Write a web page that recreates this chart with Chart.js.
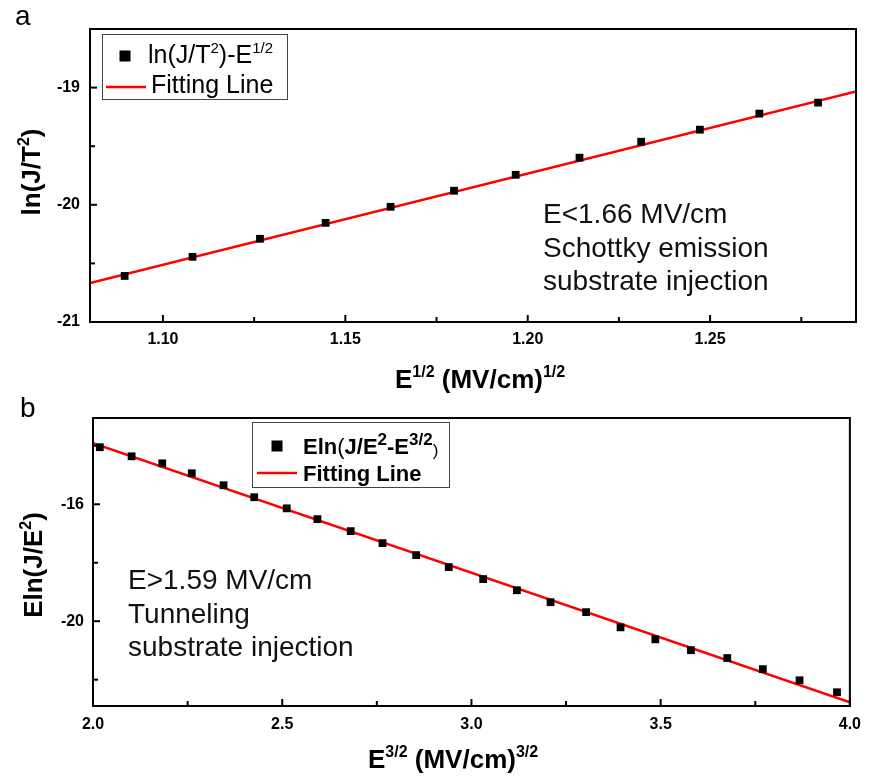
<!DOCTYPE html>
<html>
<head>
<meta charset="utf-8">
<script src="https://cdn.jsdelivr.net/npm/chart.js@4.4.1/dist/chart.umd.min.js"></script>
<style>
html, body { margin: 0; padding: 0; background: #fff; }
#wrapA { position: absolute; left: 0; top: 0; width: 870px; height: 400px; }
#wrapB { position: absolute; left: 0; top: 385px; width: 870px; height: 393px; }
</style>
</head>
<body>
<div id="wrapA"><canvas id="chartA"></canvas></div>
<div id="wrapB"><canvas id="chartB"></canvas></div>
<script>
// panel a : ln(J/T^2) vs E^1/2
const xA = [1.0895, 1.1081, 1.1266, 1.1446, 1.1624, 1.1798, 1.1967, 1.2142, 1.2311, 1.2472, 1.2635, 1.2796];
const yA = [-20.607, -20.444, -20.29, -20.154, -20.017, -19.88, -19.744, -19.598, -19.462, -19.359, -19.222, -19.128];
const fitXA = [1.08, 1.29];
const fitYA = [-20.667, -19.034];
const majorXA = [1.10, 1.15, 1.20, 1.25];
const minorXA = [1.125, 1.175, 1.225, 1.275];
const majorYA = [-21, -20, -19];
const minorYA = [-20.5, -19.5];

// panel b : Eln(J/E^2) vs E^3/2
const xB = [2.018, 2.102, 2.183, 2.261, 2.345, 2.426, 2.512, 2.593, 2.681, 2.765, 2.854, 2.940,
            3.031, 3.120, 3.209, 3.303, 3.394, 3.486, 3.580, 3.676, 3.770, 3.867, 3.966];
const yB = [-14.05, -14.36, -14.60, -14.94, -15.35, -15.76, -16.14, -16.51, -16.92, -17.33, -17.74, -18.15,
            -18.56, -18.94, -19.35, -19.69, -20.21, -20.62, -20.99, -21.26, -21.64, -22.02, -22.43];
const fitXB = [2.0, 4.0];
const fitYB = [-13.91, -22.77];
const majorXB = [2.0, 2.5, 3.0, 3.5, 4.0];
const minorXB = [2.25, 2.75, 3.25, 3.75];
const majorYB = [-20, -16];
const minorYB = [-22, -18, -14];

const FONT = "'Liberation Sans', Arial, sans-serif";

function toPts(xs, ys) {
	return xs.map((x, i) => ({ x: x, y: ys[i] }));
}

// draws a run of text pieces: [text, font, dy]
function drawRich(ctx, parts, x, y, align) {
	let w = 0;
	parts.forEach(p => { ctx.font = p[1]; w += ctx.measureText(p[0]).width; });
	let cx = align === "center" ? x - w / 2 : x;
	ctx.textAlign = "left";
	ctx.textBaseline = "alphabetic";
	parts.forEach(p => {
		ctx.font = p[1];
		ctx.fillText(p[0], cx, y + (p[2] || 0));
		cx += ctx.measureText(p[0]).width;
	});
}

function decor(cfg) {
	return {
		id: "decor",
		afterDraw(chart) {
			const ctx = chart.ctx;
			const a = chart.chartArea;
			const sx = chart.scales.x, sy = chart.scales.y;
			ctx.save();
			ctx.strokeStyle = "#000";
			ctx.fillStyle = "#000";
			// frame
			ctx.lineWidth = 2;
			ctx.strokeRect(a.left, a.top, a.right - a.left, a.bottom - a.top);
			// inward ticks
			cfg.majorX.concat(cfg.minorX).forEach(v => {
				const len = cfg.majorX.includes(v) ? 7 : 5;
				const px = sx.getPixelForValue(v);
				ctx.beginPath(); ctx.moveTo(px, a.bottom); ctx.lineTo(px, a.bottom - len); ctx.stroke();
			});
			cfg.majorY.concat(cfg.minorY).forEach(v => {
				const len = cfg.majorY.includes(v) ? 7 : 5;
				const py = sy.getPixelForValue(v);
				ctx.beginPath(); ctx.moveTo(a.left, py); ctx.lineTo(a.left + len, py); ctx.stroke();
			});
			// panel letter
			ctx.font = "28px " + FONT;
			ctx.textAlign = "left";
			ctx.textBaseline = "alphabetic";
			ctx.fillText(cfg.letter[0], cfg.letter[1], cfg.letter[2]);
			// axis titles
			drawRich(ctx, cfg.xTitle, cfg.xTitlePos[0], cfg.xTitlePos[1], "left");
			ctx.save();
			ctx.translate(cfg.yTitlePos[0], cfg.yTitlePos[1]);
			ctx.rotate(-Math.PI / 2);
			drawRich(ctx, cfg.yTitle, 0, 0, "center");
			ctx.restore();
			// legend
			const L = cfg.legend;
			ctx.lineWidth = 1;
			ctx.strokeStyle = "#444";
			ctx.strokeRect(L.box[0] + 0.5, L.box[1] + 0.5, L.box[2], L.box[3]);
			ctx.fillStyle = "#000";
			ctx.fillRect(L.marker[0] - 5.5, L.marker[1] - 5.5, 11, 11);
			drawRich(ctx, L.row1, L.text1[0], L.text1[1], "left");
			ctx.strokeStyle = "#ff0000";
			ctx.lineWidth = 2.5;
			ctx.beginPath(); ctx.moveTo(L.line[0], L.line[2]); ctx.lineTo(L.line[1], L.line[2]); ctx.stroke();
			ctx.fillStyle = "#000";
			drawRich(ctx, L.row2, L.text2[0], L.text2[1], "left");
			// annotation
			ctx.fillStyle = "#111";
			ctx.font = "28px " + FONT;
			cfg.note.forEach((t, i) => ctx.fillText(t, cfg.notePos[0], cfg.notePos[1] + i * 33.5));
			ctx.restore();
		}
	};
}

function makeChart(id, pts, fit, ax, cfg) {
	const allX = ax.majorX.concat(ax.minorX).sort((p, q) => p - q);
	const allY = ax.majorY.concat(ax.minorY).sort((p, q) => p - q);
	return new Chart(document.getElementById(id).getContext("2d"), {
		type: "scatter",
		data: {
			datasets: [
				{
					label: "data",
					data: pts,
					pointStyle: "rect",
					pointRadius: 5.5,
					backgroundColor: "#000",
					borderWidth: 0,
					showLine: false,
					order: 1,
				},
				{
					label: "Fitting Line",
					data: fit,
					showLine: true,
					pointRadius: 0,
					borderColor: "#ff0000",
					borderWidth: 2.5,
					order: 2,
				},
			],
		},
		options: {
			responsive: true,
			maintainAspectRatio: false,
			animation: false,
			layout: { padding: ax.padding },
			plugins: { legend: { display: false }, tooltip: { enabled: false } },
			scales: {
				x: {
					type: "linear",
					min: ax.xMin, max: ax.xMax,
					afterBuildTicks: s => { s.ticks = allX.map(v => ({ value: v })); },
					afterFit: s => { s.height = ax.xHeight; },
					grid: { display: false, drawTicks: false },
					border: { display: false },
					ticks: {
						autoSkip: false,
						maxRotation: 0,
						padding: ax.xPad,
						color: "#000",
						font: { family: FONT, size: 16, weight: "bold" },
						callback: v => ax.majorX.includes(v) ? v.toFixed(ax.xDec) : "",
					},
				},
				y: {
					type: "linear",
					min: ax.yMin, max: ax.yMax,
					afterBuildTicks: s => { s.ticks = allY.map(v => ({ value: v })); },
					afterFit: s => { s.width = ax.yWidth; },
					grid: { display: false, drawTicks: false },
					border: { display: false },
					ticks: {
						autoSkip: false,
						padding: ax.yPad,
						color: "#000",
						font: { family: FONT, size: 16, weight: "bold" },
						callback: v => ax.majorY.includes(v) ? String(v) : "",
					},
				},
			},
		},
		plugins: [decor(cfg)],
	});
}

const B26 = "bold 26px " + FONT, B16 = "bold 16px " + FONT;
const N25 = "25px " + FONT, N15 = "15px " + FONT;
const B22 = "bold 22px " + FONT, B17 = "bold 17px " + FONT;
const N22 = "22px " + FONT, N17 = "17px " + FONT;

makeChart("chartA", toPts(xA, yA), toPts(fitXA, fitYA), {
	xMin: 1.08, xMax: 1.29, yMin: -21, yMax: -18.5,
	majorX: majorXA, minorX: minorXA, majorY: majorYA, minorY: minorYA,
	xDec: 2, padding: { left: 0, top: 29, right: 14, bottom: 0 },
	xHeight: 78, yWidth: 90, xPad: 8, yPad: 10,
}, {
	majorX: majorXA, minorX: minorXA, majorY: majorYA, minorY: minorYA,
	letter: ["a", 15, 25],
	xTitle: [["E", B26], ["1/2", B16, -11], [" (MV/cm)", B26], ["1/2", B16, -11]],
	xTitlePos: [395, 388],
	yTitle: [["ln(J/T", B26], ["2", B16, -11], [")", B26]],
	yTitlePos: [40, 172],
	legend: {
		box: [102, 34, 185, 65],
		marker: [125, 56],
		row1: [["ln(J/T", N25], ["2", N15, -10], [")-E", N25], ["1/2", N15, -10]],
		text1: [148, 63],
		line: [106, 146, 87],
		row2: [["Fitting Line", N25]],
		text2: [151, 93],
	},
	note: ["E<1.66 MV/cm", "Schottky emission", "substrate injection"],
	notePos: [543, 223],
});

makeChart("chartB", toPts(xB, yB), toPts(fitXB, fitYB), {
	xMin: 2.0, xMax: 4.0, yMin: -22.9, yMax: -13.05,
	majorX: majorXB, minorX: minorXB, majorY: majorYB, minorY: minorYB,
	xDec: 1, padding: { left: 0, top: 33, right: 11, bottom: 0 },
	xHeight: 72, yWidth: 93, xPad: 9, yPad: 9,
}, {
	majorX: majorXB, minorX: minorXB, majorY: majorYB, minorY: minorYB,
	letter: ["b", 20, 32],
	xTitle: [["E", B26], ["3/2", B16, -11], [" (MV/cm)", B26], ["3/2", B16, -11]],
	xTitlePos: [368, 383],
	yTitle: [["Eln(J/E", B26], ["2", B16, -11], [")", B26]],
	yTitlePos: [42, 180],
	legend: {
		box: [252, 37, 197, 65],
		marker: [277, 61],
		row1: [["Eln", B22], ["(", N22], ["J/E", B22], ["2", B17, -9], ["-E", B22], ["3/2", B17, -9], [")", N17, 2]],
		text1: [303, 69],
		line: [257, 297, 88],
		row2: [["Fitting Line", B22]],
		text2: [303, 96],
	},
	note: ["E>1.59 MV/cm", "Tunneling", "substrate injection"],
	notePos: [128, 204],
});
</script>
</body>
</html>
